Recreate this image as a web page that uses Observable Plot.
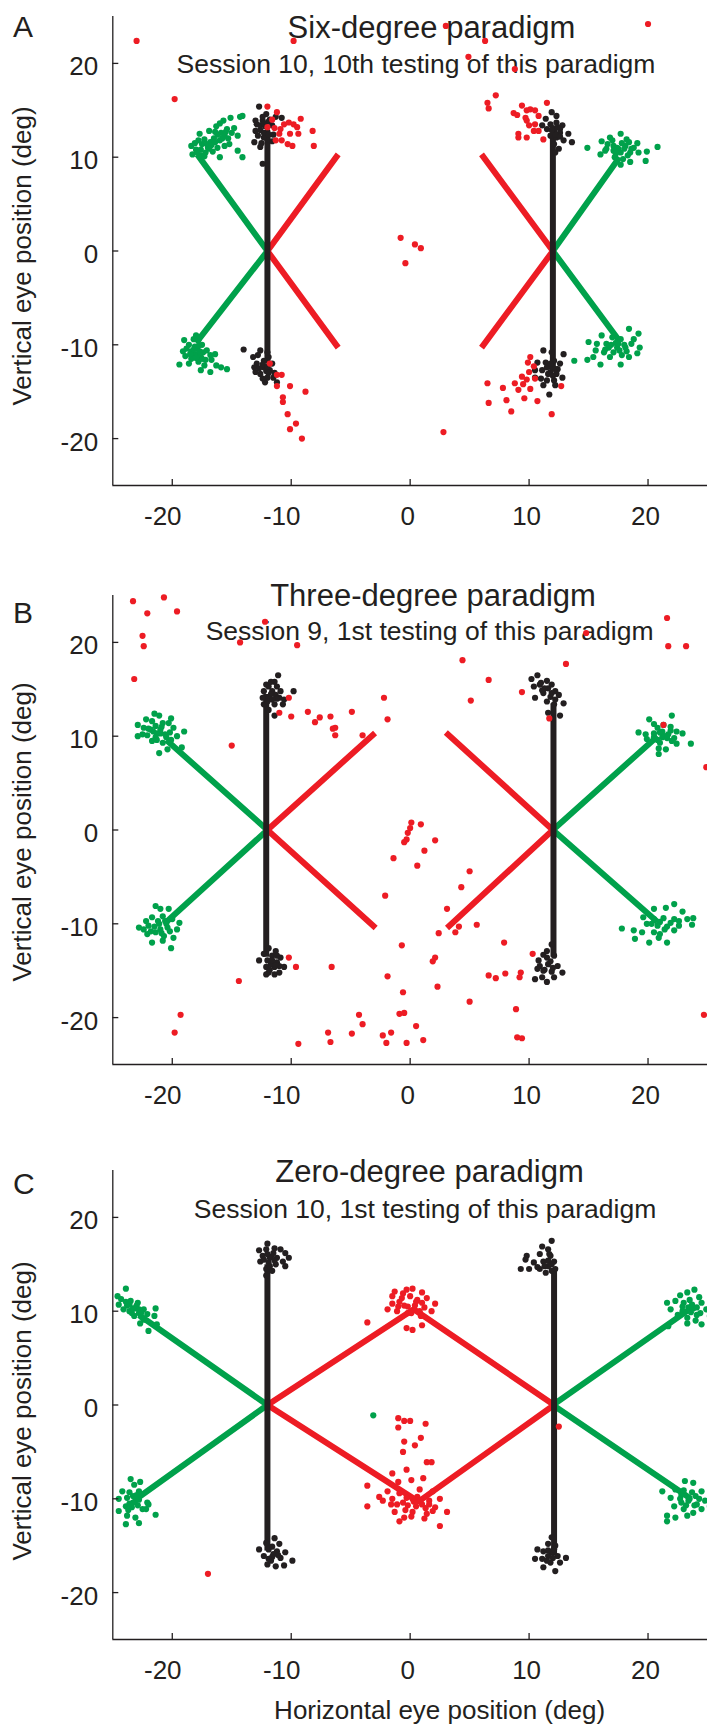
<!DOCTYPE html>
<html>
<head>
<meta charset="utf-8">
<script src="https://cdn.jsdelivr.net/npm/d3@7"></script>
<script src="https://cdn.jsdelivr.net/npm/@observablehq/plot@0.6"></script>
<style>
  html, body { margin: 0; padding: 0; background: #ffffff; }
  #root { position: relative; width: 707px; height: 1727px; overflow: hidden; background: #ffffff; }
  #root svg { position: absolute; left: 0; }
</style>
</head>
<body>
<div id="root"></div>
<script>
// ---------------- data (degrees) ----------------
const xTicks = [-20, -10, 0, 10, 20];
const yTicks = [-20, -10, 0, 10, 20];
const xDomain = [-25, 25];
const yDomain = [-25, 25];

const panelLetters = ["A", "B", "C"];
const panelTitles = ["Six-degree paradigm", "Three-degree paradigm", "Zero-degree paradigm"];
const panelSubtitles = [
  "Session 10, 10th testing of this paradigm",
  "Session 9, 1st testing of this paradigm",
  "Session 10, 1st testing of this paradigm"
];
const yLabel = "Vertical eye position (deg)";
const xLabel = "Horizontal eye position (deg)";

// Panel A – six-degree paradigm
const aPaths = [
  ["green", [[-17.9,10.3],[-12,0],[-18.0,-9.8]]],
  ["green", [[17.6,10.0],[12,0],[17.6,-9.6]]],
  ["red",   [[-6.05,10.3],[-12,0],[-6.05,-10.3]]],
  ["red",   [[6.0,10.3],[12,0],[6.0,-10.3]]],
  ["black", [[-12,12.5],[-12,-12.0]]],
  ["black", [[12,12.5],[12,-12.5]]]
];
const aGreen = [
  [-18.3,10.3],[-18.0,10.8],[-18.4,11.2],[-17.8,11.8],[-17.6,10.2],[-17.2,10.5],[-17.0,11.0],[-16.8,11.6],[-16.5,12.0],[-16.2,12.4],
  [-15.9,12.6],[-15.6,12.3],[-15.3,12.0],[-15.0,12.6],[-14.8,13.1],[-15.2,11.4],[-15.6,11.2],[-16.2,11.0],[-16.6,10.6],[-17.3,10.1],
  [-17.7,12.5],[-16.9,12.8],[-16.3,13.3],[-15.7,13.9],[-15.1,14.2],[-14.3,14.3],[-16.0,13.6],[-14.5,12.3],[-14.5,10.7],[-14.1,10.0],
  [-16.0,10.0],[-17.5,11.4],[-16.0,11.8],[-15.4,13.0],[-14.1,14.4],[-18.1,11.5],[-17.3,11.9],[-16.7,11.3],
  [-17.6,10.8],[-17.1,11.4],[-16.4,11.6],[-15.8,12.0],[-16.9,10.9],[-17.9,10.5],[-16.4,12.7],[-15.5,12.7],
  [-19.0,-9.5],[-18.6,-10.0],[-18.2,-9.4],[-17.8,-9.5],[-17.5,-10.0],[-17.9,-10.4],[-18.4,-10.7],[-19.1,-10.7],[-18.9,-11.2],[-18.4,-11.5],
  [-17.9,-11.0],[-17.4,-10.8],[-17.1,-10.6],[-16.8,-11.1],[-17.2,-11.6],[-17.8,-11.8],[-18.6,-12.0],[-19.4,-12.1],[-17.3,-12.2],[-16.3,-12.2],
  [-15.9,-12.4],[-16.7,-11.6],[-16.4,-11.0],[-17.6,-12.7],[-18.0,-9.0],[-17.6,-11.3],[-18.1,-10.2],[-18.3,-11.0],[-17.7,-10.7],[-15.4,-12.6],[-16.8,-12.9],
  [-18.2,-10.5],[-17.8,-10.1],[-18.5,-11.0],[-17.5,-11.5],[-18.0,-11.4],[-18.8,-10.4],
  [17.7,12.5],[16.8,12.1],[16.1,11.7],[18.2,11.9],[19.1,11.5],[17.1,11.2],[16.4,10.7],[16.0,10.3],[17.7,10.5],[18.5,10.5],
  [19.2,10.5],[17.2,10.0],[17.9,9.8],[18.5,9.5],[17.7,9.2],[14.9,11.0],[20.8,11.1],[19.9,10.6],[19.8,9.6],[16.5,10.9],
  [17.0,11.8],[18.1,11.2],[18.8,11.0],[17.5,10.9],[18.4,11.6],[16.6,11.4],[17.3,10.4],
  [17.4,11.0],[18.0,10.9],[17.8,11.5],[18.6,10.9],[17.1,10.7],[18.3,10.2],
  [18.4,-8.3],[16.1,-9.0],[17.0,-9.2],[17.7,-9.4],[18.8,-9.4],[19.2,-8.8],[15.0,-9.7],[15.7,-9.9],[16.5,-9.9],[17.4,-10.3],
  [18.1,-10.3],[19.3,-10.3],[15.6,-10.6],[16.3,-10.8],[17.1,-10.8],[17.8,-11.1],[18.4,-11.3],[19.1,-10.9],[14.9,-11.6],[16.0,-12.1],
  [17.7,-12.1],[13.8,-11.7],[16.8,-11.3],[15.4,-11.3],[17.3,-9.8],[18.0,-10.0],[16.7,-10.3],
  [17.6,-10.6],[18.2,-10.7],[16.9,-10.0],[17.5,-9.9],[16.4,-10.5],[18.6,-9.9]
];
const aBlack = [
  [-12.7,15.4],[-12.1,14.6],[-11.3,14.3],[-11.8,14.0],[-12.4,13.9],[-12.9,13.5],[-12.2,13.3],[-11.6,13.4],[-12.6,12.9],[-12.0,12.7],
  [-12.8,12.3],[-13.1,11.6],[-12.5,11.5],[-12.0,11.9],[-11.5,12.4],[-12.3,12.1],[-13.0,12.8],[-11.9,13.8],[-12.4,14.3],[-12.6,11.1],
  [-12.4,9.3],[-11.6,11.7],[-13.0,13.9],[-10.8,14.2],[-12.3,12.6],[-12.6,13.4],[-11.9,12.4],[-12.3,13.6],
  [-14.0,-10.5],[-12.6,-10.6],[-13.2,-11.3],[-12.9,-12.0],[-12.3,-12.4],[-11.8,-12.7],[-12.6,-13.1],[-13.0,-12.9],[-12.0,-13.5],[-11.5,-13.5],
  [-12.2,-14.0],[-11.2,-14.0],[-11.9,-11.3],[-12.3,-11.7],[-11.6,-12.0],[-12.8,-11.1],[-12.1,-12.8],[-11.4,-13.0],[-13.1,-12.4],[-12.4,-13.6],[-12.0,-10.8],
  [-12.4,-12.1],[-12.0,-12.3],[-12.7,-12.5],[-11.9,-13.0],
  [11.9,14.8],[12.3,14.4],[11.4,14.1],[11.8,13.5],[12.3,13.7],[12.8,13.4],[11.5,13.0],[12.1,12.8],[12.6,12.6],[13.3,12.5],
  [11.8,12.3],[12.3,12.1],[12.9,11.8],[13.6,11.6],[12.1,11.4],[12.5,10.9],[12.2,10.5],[11.1,13.4],[12.0,13.1],[12.6,13.0],
  [12.2,12.4],[11.9,12.9],[12.4,13.2],[12.6,12.2],
  [11.2,-10.6],[11.9,-10.8],[12.9,-11.0],[10.7,-11.9],[11.4,-11.9],[12.1,-11.7],[12.6,-12.0],[10.5,-12.7],[11.1,-12.7],[11.8,-12.9],
  [12.3,-13.1],[12.8,-13.5],[11.0,-13.6],[11.5,-13.8],[12.1,-13.8],[11.2,-14.3],[12.2,-14.3],[11.7,-15.3],[10.5,-13.5],[11.9,-12.4],[11.5,-12.4],[12.4,-12.6],
  [11.8,-12.0],[12.2,-12.6],[11.6,-13.1],[12.0,-13.3]
];
const aRed = [
  [-12.0,15.4],[-11.2,14.8],[-11.6,14.0],[-11.4,13.1],[-11.0,12.5],[-11.3,11.8],[-10.8,11.8],[-10.6,13.5],[-10.2,13.7],[-9.8,13.5],
  [-9.2,14.1],[-10.1,12.5],[-9.4,12.5],[-9.9,11.2],[-8.2,12.8],[-8.1,11.2],[-12.0,13.2],[-10.3,11.4],[-9.5,13.2],[-10.9,13.0],
  [-11.8,-12.0],[-11.2,-13.2],[-10.8,-13.2],[-11.2,-14.4],[-10.1,-14.4],[-8.8,-15.0],[-10.7,-15.6],[-10.7,-16.1],[-10.3,-17.4],[-9.6,-18.4],[-10.1,-19.0],[-9.1,-20.0],
  [7.2,16.6],[6.5,15.8],[6.6,15.2],[9.4,15.5],[11.5,15.8],[8.7,14.7],[9.0,14.5],[9.8,15.0],[10.1,15.1],[10.5,15.0],
  [10.8,14.4],[9.8,13.9],[10.0,13.4],[10.4,12.8],[10.8,12.8],[9.1,12.5],[9.1,12.1],[9.8,12.1],[11.2,11.9],[10.5,13.5],[9.7,14.2],
  [10.1,-11.3],[9.9,-11.9],[10.4,-12.3],[10.0,-12.9],[9.4,-13.4],[9.8,-13.7],[10.5,-13.6],[8.8,-14.1],[9.5,-14.2],[10.1,-14.7],
  [9.1,-14.8],[7.8,-14.6],[6.5,-14.1],[6.6,-16.2],[8.1,-15.9],[9.6,-15.7],[10.7,-16.0],[8.5,-17.1],[11.9,-17.4],[12.7,-14.4],
  [-23.0,22.4],[-19.8,16.2],[-9.8,22.4],[3.0,24.0],[6.3,22.4],[4.9,20.7],[8.8,19.4],[20.0,24.2],
  [-0.8,1.4],[0.4,0.7],[0.9,0.3],[-0.4,-1.3],[2.8,-19.3]
];

// Panel B – three-degree paradigm
const bPaths = [
  ["green", [[-20.5,9.6],[-12,0],[-20.5,-9.8]]],
  ["green", [[20.8,10.0],[12,0],[20.8,-9.8]]],
  ["red",   [[-2.95,10.35],[-12,0],[-2.9,-10.45]]],
  ["red",   [[3.0,10.4],[12,0],[3.1,-10.45]]],
  ["black", [[-12.1,14.5],[-12.1,-13.5]]],
  ["black", [[12.05,13.5],[12.05,-13.5]]]
];
const bGreen = [
  [-21.5,12.4],[-21.1,12.2],[-20.1,11.9],[-22.2,11.8],[-21.7,11.6],[-20.8,11.4],[-22.9,11.2],[-22.4,10.9],[-21.4,11.1],[-19.9,10.9],
  [-19.0,10.5],[-22.9,10.0],[-22.1,10.1],[-21.3,10.3],[-20.6,10.2],[-19.6,10.0],[-21.7,9.5],[-20.8,9.3],[-20.1,9.6],[-19.2,8.8],
  [-21.1,8.2],[-20.4,8.6],[-22.5,10.2],[-21.0,10.7],[-20.3,11.4],[-21.8,10.7],[-20.5,9.9],[-21.4,9.9],
  [-21.0,10.3],[-20.9,11.0],[-21.6,10.5],[-20.2,10.4],[-21.3,9.6],[-22.0,10.8],
  [-21.4,-8.1],[-21.0,-8.4],[-20.3,-8.4],[-22.2,-9.7],[-21.7,-9.3],[-20.8,-9.2],[-20.0,-9.5],[-19.4,-9.9],[-22.8,-10.4],[-22.0,-10.2],
  [-21.1,-10.0],[-20.4,-10.4],[-19.6,-10.6],[-22.1,-11.1],[-21.4,-10.9],[-20.7,-11.3],[-19.9,-11.5],[-21.7,-12.0],[-20.8,-11.8],[-20.1,-12.6],
  [-22.4,-10.6],[-20.6,-9.7],[-21.0,-10.6],
  [-21.2,-9.7],[-20.5,-10.0],[-21.5,-10.3],[-20.9,-11.0],[-20.2,-10.8],[-21.8,-10.8],
  [20.1,11.8],[22.0,12.2],[20.5,11.3],[21.3,11.2],[21.9,11.0],[19.2,10.4],[19.8,10.2],[20.5,10.3],[21.2,10.5],[21.7,10.2],
  [22.4,10.5],[22.9,10.3],[19.9,9.7],[20.8,9.6],[21.6,9.8],[22.4,9.2],[23.6,9.2],[20.9,8.7],[21.5,8.6],[20.9,8.1],[20.8,10.9],[22.2,9.8],[21.2,9.9],
  [21.0,10.4],[21.4,10.0],[20.5,9.9],[21.9,10.6],[21.0,9.3],[22.0,9.5],
  [22.2,-7.9],[21.5,-8.3],[20.5,-8.4],[22.9,-8.7],[19.6,-9.3],[20.5,-9.5],[21.3,-9.4],[22.2,-9.5],[23.3,-9.5],[23.8,-9.4],
  [19.9,-10.0],[20.8,-10.2],[21.6,-10.3],[22.6,-10.2],[23.7,-10.1],[17.8,-10.5],[18.8,-10.7],[19.5,-10.9],[20.5,-10.9],[21.6,-12.0],
  [20.1,-12.0],[20.9,-11.5],[18.9,-11.6],[21.9,-9.9],
  [21.0,-9.8],[21.4,-10.6],[20.3,-10.0],[22.2,-10.7],[21.0,-11.1],[22.6,-9.7]
];
const bBlack = [
  [-11.1,16.5],[-11.4,15.8],[-11.9,15.3],[-11.2,15.3],[-12.3,14.8],[-11.6,14.8],[-10.9,14.8],[-9.8,14.8],[-12.4,14.1],[-11.9,14.1],
  [-11.0,14.1],[-10.6,13.9],[-12.3,13.4],[-11.4,13.4],[-10.7,13.4],[-11.9,12.8],[-11.4,12.2],[-12.1,15.5],[-11.3,14.4],[-12.0,13.7],
  [-11.7,14.5],[-11.2,14.0],[-11.7,15.8],[-11.6,13.9],
  [-11.9,-12.6],[-11.3,-12.9],[-12.3,-13.2],[-11.6,-13.4],[-10.9,-13.6],[-12.7,-13.9],[-12.0,-13.9],[-11.2,-14.1],[-10.6,-14.6],[-12.1,-14.6],
  [-11.4,-14.6],[-11.9,-15.2],[-11.0,-15.2],[-12.1,-15.4],[-11.4,-15.4],[-11.7,-14.3],[-11.0,-14.5],
  [-11.6,-13.9],[-11.3,-14.4],[-11.8,-14.9],[-11.2,-13.4],
  [10.7,16.5],[10.2,16.1],[11.5,15.9],[10.4,15.3],[10.9,15.5],[11.6,15.1],[12.2,14.8],[10.5,14.1],[11.2,14.6],[11.8,14.2],
  [12.5,14.4],[12.9,13.5],[11.5,13.7],[12.1,13.4],[11.6,12.5],[12.6,12.2],[11.1,14.9],[11.9,15.5],
  [11.3,15.1],[11.9,14.6],[12.2,13.9],[11.0,15.7],
  [11.9,-12.2],[11.5,-12.9],[10.8,-13.9],[11.5,-13.6],[12.1,-13.4],[10.9,-14.5],[11.6,-14.3],[12.4,-14.5],[12.8,-15.2],[11.2,-15.0],
  [11.9,-15.1],[10.5,-15.9],[11.1,-15.7],[11.5,-16.2],[12.1,-15.7],[10.7,-14.8],
  [11.8,-14.0],[11.3,-14.9],[12.0,-14.7],[11.2,-13.3]
];
const bRed = [
  [-23.3,24.4],[-20.7,24.8],[-22.1,23.1],[-19.6,23.3],[-22.5,20.7],[-22.4,19.6],[-23.2,16.1],[-12.2,22.2],[-14.3,20.0],[-9.5,19.7],
  [-15.0,9.0],[-10.2,14.1],[-11.0,12.5],[-10.0,12.1],[-8.6,12.6],[-8.0,11.5],[-7.6,12.0],[-6.7,12.1],[-6.5,10.8],[-6.3,10.9],
  [-6.3,10.1],[-4.9,12.6],[-4.0,10.1],[-2.2,14.1],[-1.9,11.8],
  [0.1,0.8],[0.0,0.2],[-0.2,-0.3],[-0.3,-1.0],[-0.5,-1.3],[0.9,0.6],[2.1,-1.1],[1.2,-2.2],[0.6,-3.8],[-1.4,-3.0],[-2.1,-7.0],[-0.7,-12.3],
  [-14.4,-16.1],[-10.2,-13.6],[-9.6,-14.6],[-6.6,-14.6],[-1.9,-15.6],[-0.6,-17.3],[-19.3,-19.7],[-19.8,-21.6],[-4.3,-19.7],[-4.0,-20.7],
  [-6.9,-21.6],[-4.9,-21.7],[-2.3,-21.9],[-1.6,-21.6],[-6.7,-22.6],[-9.4,-22.8],[-2.0,-22.7],[-0.9,-19.6],[-0.5,-19.5],[-0.3,-22.7],[0.5,-20.9],
  [21.6,22.6],[21.7,19.6],[23.2,19.6],[14.8,21.0],[4.4,18.1],[13.1,17.7],[6.6,16.0],[5.1,13.8],[9.4,14.7],[11.7,11.9],
  [21.3,11.2],[24.9,6.7],[5.0,-4.4],[4.3,-6.1],[3.1,-8.4],[5.6,-10.1],[4.1,-10.3],[3.8,-10.9],[2.4,-11.0],[7.9,-12.0],
  [10.3,-13.2],[2.1,-13.6],[1.9,-14.0],[6.6,-15.5],[7.2,-15.8],[8.0,-15.3],[9.3,-15.2],[9.2,-15.7],[2.3,-16.7],[5.0,-18.3],
  [8.9,-19.1],[24.7,-19.7],[9.0,-22.1],[9.4,-22.2],[1.1,-22.4]
];

// Panel C – zero-degree paradigm
const cPaths = [
  ["green", [[-22.8,9.6],[-12,0],[-23.0,-10.0]]],
  ["green", [[23.6,10.3],[12,0],[23.6,-10.0]]],
  ["red",   [[-12,0],[0.3,10.2],[12.1,0],[0.7,-10.3],[-12,0]]],
  ["black", [[-12,15.0],[-12,-15.5]]],
  ["black", [[12.1,14.5],[12.1,-16.0]]]
];
const cGreen = [
  [-23.9,12.4],[-24.6,11.6],[-24.3,11.3],[-23.5,11.1],[-22.9,10.9],[-24.5,10.7],[-23.8,10.6],[-23.1,10.3],[-22.4,10.2],[-21.4,10.3],
  [-23.6,10.0],[-22.8,9.8],[-22.1,9.7],[-23.2,9.5],[-22.4,9.1],[-21.5,9.5],[-21.3,8.6],[-22.0,7.9],[-22.7,8.7],[-24.1,10.2],
  [-23.4,9.8],[-23.0,10.6],[-22.6,9.4],
  [-23.3,10.3],[-22.8,10.2],[-23.6,10.7],[-22.6,9.9],[-23.9,11.0],
  [-23.5,-7.9],[-22.7,-8.2],[-23.2,-8.5],[-24.2,-9.2],[-23.6,-9.3],[-22.8,-9.2],[-24.5,-10.0],[-23.8,-9.9],[-23.1,-10.2],[-22.1,-10.4],
  [-23.9,-10.8],[-23.4,-10.9],[-22.5,-11.1],[-24.5,-11.3],[-23.8,-11.8],[-23.1,-12.0],[-22.2,-11.1],[-21.4,-11.7],[-23.9,-12.7],[-22.8,-12.6],
  [-22.0,-10.6],[-23.3,-9.7],[-22.9,-10.7],
  [-23.3,-10.4],[-23.6,-10.5],[-22.8,-10.1],[-23.7,-11.2],[-23.0,-9.6],
  [23.9,12.3],[23.3,12.0],[22.7,11.7],[24.3,11.5],[21.6,10.9],[22.3,11.1],[23.0,10.9],[23.7,10.7],[24.5,10.9],[21.9,10.2],
  [22.9,10.0],[23.6,9.9],[24.4,9.8],[24.9,10.2],[23.3,9.3],[24.0,9.0],[24.5,8.6],[23.3,8.7],[21.7,8.4],[25.2,9.5],[25.3,11.2],[23.8,10.3],[22.5,9.6],
  [23.4,10.4],[24.1,10.4],[23.5,11.2],[24.1,9.6],[22.9,10.5],
  [23.1,-8.1],[23.8,-8.3],[21.2,-9.2],[22.3,-9.0],[23.0,-9.1],[23.7,-9.3],[24.5,-9.2],[21.9,-9.9],[22.7,-10.0],[23.4,-10.2],
  [24.3,-10.0],[24.8,-10.2],[22.2,-10.8],[23.0,-11.1],[23.8,-11.5],[24.5,-11.1],[21.6,-11.8],[22.3,-12.0],[21.6,-12.4],[23.3,-11.8],
  [25.2,-10.8],[23.9,-10.7],[22.8,-9.6],
  [23.5,-10.0],[24.0,-9.7],[23.2,-10.7],[24.1,-10.6],[22.8,-10.4],
  [-3.1,-1.1]
];
const cBlack = [
  [-12.0,17.2],[-12.7,16.5],[-12.1,16.6],[-11.4,16.7],[-10.9,16.6],[-10.2,15.7],[-10.5,16.2],[-12.4,15.9],[-11.7,15.8],[-11.2,15.7],
  [-12.6,15.3],[-11.9,15.2],[-11.3,15.0],[-10.5,14.8],[-12.1,14.5],[-11.6,14.3],[-12.1,13.8],[-10.7,15.3],[-12.3,15.5],[-11.5,16.2],
  [-11.8,15.7],[-11.4,15.4],[-12.0,16.1],[-11.8,14.8],
  [-11.4,-14.2],[-12.1,-14.7],[-11.0,-14.8],[-12.7,-15.4],[-11.9,-15.4],[-11.2,-15.6],[-10.5,-15.7],[-12.3,-16.1],[-11.6,-16.2],[-10.9,-16.3],
  [-9.9,-16.6],[-12.0,-17.0],[-11.3,-17.2],[-10.6,-17.1],[-11.7,-16.6],
  [-11.5,-15.9],[-11.1,-16.0],[-11.6,-15.1],[-11.9,-16.4],
  [11.9,17.5],[11.1,16.9],[11.6,16.6],[9.8,15.9],[10.9,16.1],[11.8,15.9],[12.1,15.3],[9.7,15.5],[10.4,15.2],[11.2,15.3],
  [11.6,14.8],[9.3,14.5],[10.0,14.5],[10.9,14.5],[11.4,14.1],[11.9,14.3],[12.2,14.5],[10.7,14.7],
  [11.6,15.4],[11.9,15.0],[11.3,14.8],[11.7,16.1],
  [11.9,-14.1],[11.6,-14.8],[12.2,-15.0],[10.7,-15.4],[11.2,-15.6],[11.9,-15.7],[12.4,-16.1],[13.1,-16.3],[10.5,-16.4],[11.1,-16.4],
  [11.8,-16.8],[12.6,-16.8],[11.2,-17.3],[12.2,-17.7],[11.6,-16.1],
  [11.6,-15.5],[12.0,-16.3],[11.5,-16.6],[12.1,-15.4]
];
const cRed = [
  [-1.3,12.1],[-0.3,12.3],[0.2,12.4],[1.0,12.0],[-1.5,11.6],[-0.7,11.4],[0.0,11.6],[1.4,11.4],[2.1,10.8],[-1.5,10.8],
  [-0.5,10.6],[0.4,10.6],[1.2,10.4],[-1.1,10.0],[-0.2,9.8],[0.8,10.0],[1.8,10.0],[-0.3,8.2],[0.2,8.0],[1.0,8.5],
  [-3.6,8.8],[-1.9,10.2],[-0.9,11.0],[0.6,11.2],
  [-0.2,10.5],[0.5,11.0],[-0.6,11.9],[1.0,10.9],[0.1,9.8],[-1.0,10.5],[0.9,9.5],
  [-1.0,-1.4],[-0.5,-1.7],[0.0,-1.7],[1.3,-2.0],[-1.0,-2.4],[-0.5,-3.9],[0.9,-3.5],[0.4,-4.3],[-0.6,-5.0],[1.4,-6.1],
  [1.8,-6.1],[-0.3,-6.9],[-1.5,-7.3],[0.1,-8.0],[1.1,-7.8],[-1.0,-8.2],
  [-3.6,-8.6],[-1.9,-9.2],[-0.9,-9.4],[0.8,-9.0],[1.9,-9.2],[-1.5,-10.0],[-0.3,-9.9],[0.6,-9.8],[1.6,-10.2],[2.5,-10.0],
  [-2.3,-10.2],[-1.1,-10.6],[-0.2,-10.7],[1.0,-10.6],[2.1,-10.9],[3.1,-11.4],[-1.3,-11.4],[-0.5,-12.0],[0.2,-11.4],[1.4,-11.6],
  [-0.9,-12.4],[1.2,-12.1],[2.5,-12.9],[-3.6,-10.8],[-2.6,-9.8],[0.3,-10.3],[-0.6,-10.4],[1.3,-11.0],
  [0.2,-10.0],[0.5,-10.8],[1.6,-10.6],[-0.4,-11.2],[0.9,-10.1],[1.9,-11.3],[-1.6,-10.6],[0.1,-11.9],
  [-17.0,-18.0],[12.5,-2.3]
];

// ---------------- drawing ----------------
const COLORS = { green: "#00a14b", red: "#ed1c24", black: "#231f20" };
const INK = "#231f20";
const FONT = "'Liberation Sans', Arial, Helvetica, sans-serif";
const W = 707, H = 560, MT = 16, MB = 75, ML = 112.3, MR = 0;
const frameH = H - MT - MB, frameW = W - ML - MR;

function pathRows(paths) {
  const rows = [];
  paths.forEach(([color, pts], i) => pts.forEach(([x, y]) => rows.push({ id: i, color, x, y })));
  return rows;
}

function panel(paths, green, black, red) {
  const rows = pathRows(paths);
  const lineMarks = ["green", "red", "black"].map(c =>
    Plot.line(rows.filter(r => r.color === c), {
      x: "x", y: "y", z: "id", stroke: COLORS[c], strokeWidth: 6,
      strokeLinecap: "butt", strokeLinejoin: "miter"
    })
  );
  const dot = (data, c) => Plot.dot(data, { x: d => d[0], y: d => d[1], r: 3.1, fill: COLORS[c], stroke: "none" });
  return Plot.plot({
    width: W, height: H,
    marginTop: MT, marginBottom: MB, marginLeft: ML, marginRight: MR,
    x: { domain: xDomain, label: null },
    y: { domain: yDomain, label: null },
    style: { fontFamily: FONT, color: INK, background: "transparent", overflow: "visible" },
    marks: [
      ...lineMarks,
      dot(black, "black"),
      dot(green, "green"),
      dot(red, "red"),
      Plot.ruleX(xDomain.slice(0, 1), { stroke: INK, strokeWidth: 1.3 }),
      Plot.ruleY(yDomain.slice(0, 1), { stroke: INK, strokeWidth: 1.3 }),
      Plot.tickX(xTicks, { x: d => d, stroke: INK, strokeWidth: 1.3, insetTop: frameH - 6 }),
      Plot.tickY(yTicks, { y: d => d, stroke: INK, strokeWidth: 1.3, insetRight: frameW - 6 }),
      Plot.axisY(yTicks, { tickSize: 0, tickPadding: 14.6, fontSize: 26, dy: 3.75, tickFormat: d => String(d), label: null }),
      Plot.axisX(xTicks.filter(d => d < 0), { tickSize: 0, tickPadding: 20.75, fontSize: 26, dx: -9.5, tickFormat: d => String(d), label: null }),
      Plot.axisX(xTicks.filter(d => d >= 0), { tickSize: 0, tickPadding: 20.75, fontSize: 26, dx: -2.5, tickFormat: d => String(d), label: null })
    ]
  });
}

const root = document.getElementById("root");

// text layer (below plots so the dots sit on top of the titles)
const textSvg = d3.select(root).append("svg")
  .attr("width", W).attr("height", 1727)
  .style("top", "0px")
  .attr("font-family", FONT).attr("fill", INK);

const panelTops = [0, 578.6, 1154.2];
const letterBase = [36.7, 622.5, 1194];
const titlePos = [[431.5, 37.5], [433, 606.4], [429.5, 1182.4]];
const subPos = [[416, 72.5], [429.6, 640.4], [425, 1218]];
const yLabelCenter = [256, 832, 1411];

for (let i = 0; i < 3; i++) {
  textSvg.append("text").attr("x", 13).attr("y", letterBase[i]).attr("font-size", 30).text(panelLetters[i]);
  textSvg.append("text").attr("x", titlePos[i][0]).attr("y", titlePos[i][1]).attr("font-size", 31)
    .attr("text-anchor", "middle").text(panelTitles[i]);
  textSvg.append("text").attr("x", subPos[i][0]).attr("y", subPos[i][1]).attr("font-size", 26.5)
    .attr("text-anchor", "middle").text(panelSubtitles[i]);
  textSvg.append("text").attr("transform", `translate(30.8,${yLabelCenter[i]}) rotate(-90)`)
    .attr("font-size", 26).attr("text-anchor", "middle").text(yLabel);
}
textSvg.append("text").attr("x", 439.6).attr("y", 1719).attr("font-size", 26)
  .attr("text-anchor", "middle").text(xLabel);

const panels = [
  panel(aPaths, aGreen, aBlack, aRed),
  panel(bPaths, bGreen, bBlack, bRed),
  panel(cPaths, cGreen, cBlack, cRed)
];
panels.forEach((p, i) => {
  p.style.position = "absolute";
  p.style.top = panelTops[i] + "px";
  p.style.left = "0px";
  root.appendChild(p);
});
</script>
</body>
</html>
